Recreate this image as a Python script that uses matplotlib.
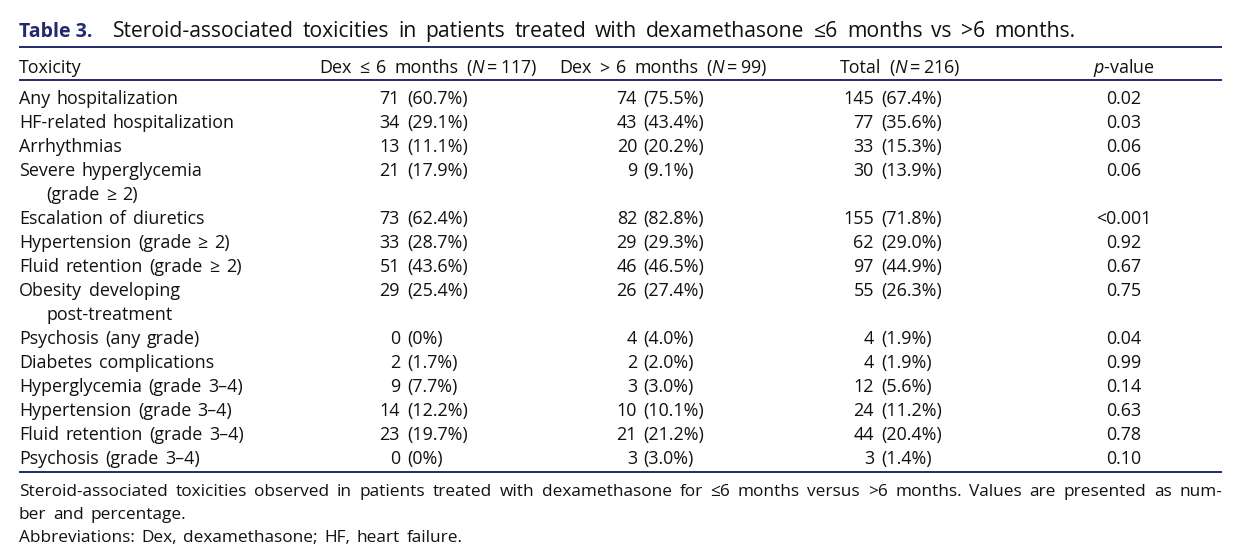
import matplotlib
matplotlib.use("Agg")
import matplotlib.pyplot as plt

# fonts
plt.rcParams['font.family'] = ['Open Sans', 'DejaVu Sans']
plt.rcParams['mathtext.fontset'] = 'custom'
plt.rcParams['mathtext.rm'] = 'Open Sans'
plt.rcParams['mathtext.it'] = 'Open Sans:italic'

# Table data
title_label = "Table 3."
title_text = "Steroid-associated toxicities in patients treated with dexamethasone \u22646 months vs >6 months."
headers = ["Toxicity",
           "Dex \u2264 6 months ($\\mathit{N}=117$)",
           "Dex > 6 months ($\\mathit{N}=99$)",
           "Total ($\\mathit{N}=216$)",
           "$\\mathit{p}$-value"]

toxicity = ["Any hospitalization",
            "HF-related hospitalization",
            "Arrhythmias",
            "Severe hyperglycemia\n(grade \u2265 2)",
            "Escalation of diuretics",
            "Hypertension (grade \u2265 2)",
            "Fluid retention (grade \u2265 2)",
            "Obesity developing\npost-treatment",
            "Psychosis (any grade)",
            "Diabetes complications",
            "Hyperglycemia (grade 3\u20134)",
            "Hypertension (grade 3\u20134)",
            "Fluid retention (grade 3\u20134)",
            "Psychosis (grade 3\u20134)"]
dex_le6_n = [71, 34, 13, 21, 73, 33, 51, 29, 0, 2, 9, 14, 23, 0]
dex_le6_pct = ["60.7", "29.1", "11.1", "17.9", "62.4", "28.7", "43.6", "25.4",
               "0", "1.7", "7.7", "12.2", "19.7", "0"]
dex_gt6_n = [74, 43, 20, 9, 82, 29, 46, 26, 4, 2, 3, 10, 21, 3]
dex_gt6_pct = ["75.5", "43.4", "20.2", "9.1", "82.8", "29.3", "46.5", "27.4",
               "4.0", "2.0", "3.0", "10.1", "21.2", "3.0"]
total_n = [145, 77, 33, 30, 155, 62, 97, 55, 4, 4, 12, 24, 44, 3]
total_pct = ["67.4", "35.6", "15.3", "13.9", "71.8", "29.0", "44.9", "26.3",
             "1.9", "1.9", "5.6", "11.2", "20.4", "1.4"]
p_values = ["0.02", "0.03", "0.06", "0.06", "<0.001", "0.92", "0.67", "0.75",
            "0.04", "0.99", "0.14", "0.63", "0.78", "0.10"]

footnotes = ["Steroid-associated toxicities observed in patients treated with dexamethasone for "
             "\u22646 months versus >6 months. Values are presented as num-",
             "ber and percentage.",
             "Abbreviations: Dex, dexamethasone; HF, heart failure."]

navy = '#232a6e'
ink = '#111111'
fs = 12.9
fn_fs = 12.4

fig = plt.figure(figsize=(12.44, 5.56), dpi=100)
ax = fig.add_axes([0, 0, 1, 1])
ax.set_xlim(0, 1244)
ax.set_ylim(556, 0)
ax.axis('off')
r = fig.canvas.get_renderer()

left, right = 19, 1222


# text drawn word by word so the word spacing of the original can be kept
def words(x, y, s, size, space=6.5, ha='left', end=None, **kw):
    parts = s.split(" ")
    ts = [ax.text(0, y, w, fontsize=size, va='baseline', **kw) for w in parts]
    ws = [t.get_window_extent(r).width for t in ts]
    if end is not None and len(parts) > 1:
        space = (end - x - sum(ws)) / (len(parts) - 1)
    total = sum(ws) + space * (len(parts) - 1)
    if ha == 'center':
        x0 = x - total / 2
    elif ha == 'right':
        x0 = x - total
    else:
        x0 = x
    for t, w in zip(ts, ws):
        t.set_x(x0)
        x0 += w + space
    return ts


# title
ax.text(left, 37, title_label, fontsize=14.0, fontweight='bold', color=navy, va='baseline')
words(113, 37, title_text, 15.2, end=1075, color=ink)

# rules
for yy in [47, 80, 472]:
    ax.plot([left, right], [yy, yy], color=navy, lw=1.4, solid_capstyle='butt')

# header
head_x = [left, 428, 663, 900, 1124]
words(head_x[0], 73, headers[0], fs, color=ink)
for hx, h in zip(head_x[1:], headers[1:]):
    words(hx, 73, h, fs, space=7.5, ha='center', color=ink)

# body
cols = [(dex_le6_n, dex_le6_pct, 400, 407),
        (dex_gt6_n, dex_gt6_pct, 637, 643),
        (total_n, total_pct, 874, 881)]
y = 104
step = 24
for i, lab in enumerate(toxicity):
    parts = lab.split("\n")
    words(left, y, parts[0], fs, color=ink)
    for c_n, c_p, xr, xl in cols:
        ax.text(xr, y, str(c_n[i]), fontsize=fs, color=ink, va='baseline', ha='right')
        ax.text(xl, y, "(" + c_p[i] + "%)", fontsize=fs, color=ink, va='baseline', ha='left')
    ax.text(1124, y, p_values[i], fontsize=fs, color=ink, va='baseline', ha='center')
    for extra in parts[1:]:
        y += step
        words(46, y, extra, fs, color=ink)
    y += step

# footnote, first line justified
words(left, 496, footnotes[0], fn_fs, end=right, color=ink)
words(left, 519, footnotes[1], fn_fs, space=6.5, color=ink)
words(left, 542, footnotes[2], fn_fs, space=6.5, color=ink)

fig.savefig("out.png", dpi=100, facecolor='white')
